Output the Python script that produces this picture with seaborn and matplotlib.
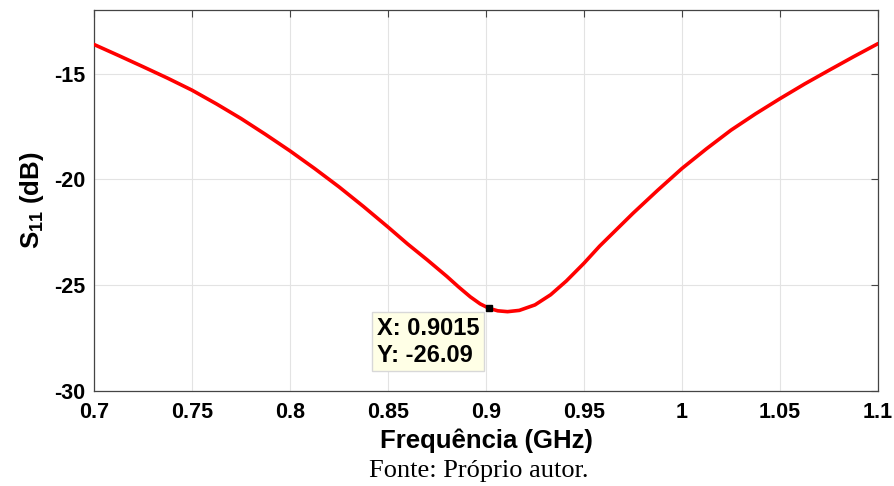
import matplotlib
matplotlib.use("Agg")
import matplotlib.pyplot as plt
import seaborn as sns
import pandas as pd

freq_ghz = [0.700, 0.7125, 0.725, 0.7375, 0.750, 0.7625, 0.775, 0.7875, 0.800, 0.8125,
            0.825, 0.8375, 0.850, 0.860, 0.870, 0.880, 0.886, 0.892, 0.897, 0.9015,
            0.906, 0.911, 0.917, 0.925, 0.933, 0.941, 0.950, 0.958, 0.975, 0.9875,
            1.000, 1.0125, 1.025, 1.0375, 1.050, 1.0625, 1.075, 1.0875, 1.100]
s11_db = [-13.62, -14.14, -14.67, -15.21, -15.78, -16.43, -17.12, -17.87, -18.65, -19.48,
          -20.35, -21.28, -22.25, -23.05, -23.80, -24.58, -25.08, -25.55, -25.88, -26.09,
          -26.21, -26.25, -26.19, -25.93, -25.45, -24.80, -23.96, -23.15, -21.60, -20.52,
          -19.48, -18.55, -17.67, -16.90, -16.18, -15.49, -14.84, -14.20, -13.58]
marker_x = 0.9015
marker_y = -26.09
x_ticks = [0.7, 0.75, 0.8, 0.85, 0.9, 0.95, 1, 1.05, 1.1]
x_tick_labels = ["0.7", "0.75", "0.8", "0.85", "0.9", "0.95", "1", "1.05", "1.1"]
y_ticks = [-30, -25, -20, -15]
y_tick_labels = ["-30", "-25", "-20", "-15"]

sns.set_style("white")
plt.rcParams["font.family"] = ["Liberation Sans", "DejaVu Sans"]
plt.rcParams["mathtext.fontset"] = "custom"
plt.rcParams["mathtext.bf"] = "Liberation Sans:bold"
plt.rcParams["mathtext.rm"] = "Liberation Sans:bold"
plt.rcParams["text.color"] = "black"
plt.rcParams["axes.labelcolor"] = "black"
plt.rcParams["xtick.labelcolor"] = "black"
plt.rcParams["ytick.labelcolor"] = "black"

df = pd.DataFrame({"freq": freq_ghz, "s11": s11_db})

fig = plt.figure(figsize=(8.95, 4.86), dpi=100)
ax = fig.add_axes([0.105, 0.1955, 0.876, 0.7835])

ax.grid(True, color="#e3e3e3", linewidth=0.8)
ax.set_axisbelow(True)
sns.lineplot(data=df, x="freq", y="s11", color="#ff0000", linewidth=2.6, ax=ax,
             zorder=3)

ax.plot([marker_x], [marker_y], marker="s", color="black", markersize=5, zorder=4)
ax.text(0.8445, -26.5, f"X: {marker_x}\nY: {marker_y}", fontsize=17,
        fontweight="bold", ha="left", va="top", linespacing=1.2, zorder=5,
        bbox=dict(boxstyle="square,pad=0.2", facecolor="#ffffe6",
                  edgecolor="#d8d8d8", linewidth=1))

ax.set_xlim(0.7, 1.1)
ax.set_ylim(-30, -12)
ax.set_xticks(x_ticks)
ax.set_xticklabels(x_tick_labels)
ax.set_yticks(y_ticks)
ax.set_yticklabels(y_tick_labels)
ax.tick_params(direction="in", length=5, width=0.8, color="#444444",
               top=True, right=True, labelsize=15.5)
ax.tick_params(axis="x", pad=8)
ax.tick_params(axis="y", pad=6)
for lab in ax.get_xticklabels() + ax.get_yticklabels():
    lab.set_fontweight("bold")
for sp in ax.spines.values():
    sp.set_color("#444444")
    sp.set_linewidth(0.9)

ax.set_xlabel("Frequência (GHz)", fontsize=18.5, fontweight="bold", labelpad=4)
ax.set_ylabel(r"$\mathbf{S_{11}}$ (dB)", fontsize=18.5, fontweight="bold", labelpad=6)

fig.text(0.535, 0.03, "Fonte: Próprio autor.", fontsize=19,
         family=["Liberation Serif", "DejaVu Serif"], ha="center", va="center")

fig.savefig("out.png", dpi=100)
